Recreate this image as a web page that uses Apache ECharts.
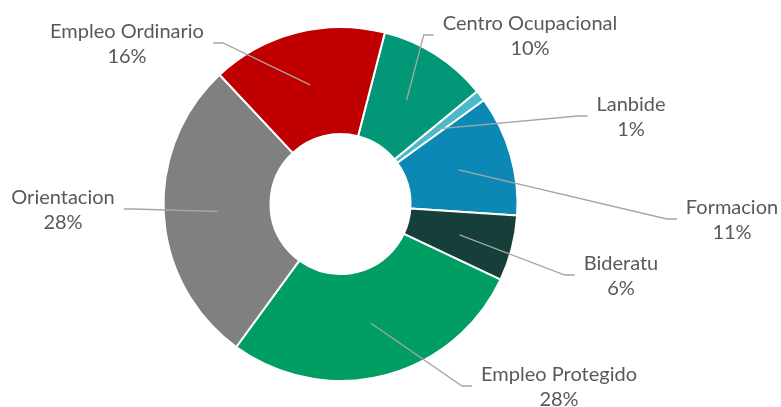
<!DOCTYPE html>
<html>
<head>
<meta charset="utf-8">
<script src="https://cdn.jsdelivr.net/npm/echarts@6/dist/echarts.min.js"></script>
<style>
  html, body { margin: 0; padding: 0; background: #fff; }
  #chart { width: 781px; height: 407px; }
</style>
</head>
<body>
<div id="chart"></div>
<script>
  var categories = ['Centro Ocupacional', 'Lanbide', 'Formacion', 'Bideratu', 'Empleo Protegido', 'Orientacion', 'Empleo Ordinario']
  var values = [10, 1, 11, 6, 28, 28, 16]
  var colors = ['#029777', '#4bb9c9', '#0b88b4', '#153f38', '#019e64', '#808080', '#c00000']

  // centre of each label block, same order as categories
  var labelPos = [[530, 36], [631, 117], [732, 220], [621, 276], [559, 387], [63, 210], [127, 44]]

  var center = [340.5, 204]
  var startAngle = 75.5

  var sliceData = categories.map(function (name, i) {
    return { name: name, value: values[i], itemStyle: { color: colors[i] } }
  })
  // same slices again, invisible, only to carry labels and leader lines from mid ring
  var labelData = categories.map(function (name, i) {
    return { name: name, value: values[i] }
  })

  var chart = echarts.init(document.getElementById('chart'))
  chart.setOption({
    animation: false,
    series: [
      {
        type: 'pie',
        silent: true,
        center: center,
        radius: [70, 177],
        startAngle: startAngle,
        itemStyle: { borderColor: '#fff', borderWidth: 2 },
        label: { show: false },
        labelLine: { show: false },
        data: sliceData
      },
      {
        type: 'pie',
        silent: true,
        z: 3,
        center: center,
        radius: [0, 123],
        startAngle: startAngle,
        avoidLabelOverlap: false,
        percentPrecision: 0,
        itemStyle: { color: 'rgba(0,0,0,0)', borderWidth: 0 },
        label: {
          show: true,
          position: 'outside',
          formatter: '{b}\n{d}%',
          color: '#595959',
          fontFamily: 'Lato',
          fontSize: 20,
          lineHeight: 25,
          align: 'center'
        },
        labelLine: {
          show: true,
          length: 5,
          length2: 5,
          lineStyle: { color: '#a6a6a6', width: 1.3 }
        },
        labelLayout: function (p) {
          var pos = labelPos[p.dataIndex]
          var w = p.labelRect.width
          var start = p.labelLinePoints[0]
          var onLeft = pos[0] < start[0]
          var end = onLeft ? [pos[0] + w / 2 + 9, pos[1] - 1] : [pos[0] - w / 2 - 9, pos[1] - 1]
          var elbow = onLeft ? [end[0] + 10, end[1]] : [end[0] - 10, end[1]]
          return {
            x: pos[0],
            y: pos[1],
            align: 'center',
            verticalAlign: 'middle',
            labelLinePoints: [start, elbow, end]
          }
        },
        data: labelData
      }
    ]
  })
</script>
</body>
</html>
